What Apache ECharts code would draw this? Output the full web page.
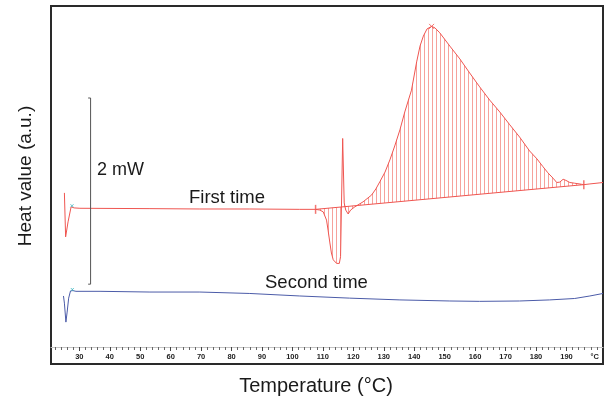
<!DOCTYPE html>
<html><head><meta charset="utf-8">
<script src="https://cdn.jsdelivr.net/npm/echarts@6.0.0/dist/echarts.min.js"></script>
<style>html,body{margin:0;padding:0;background:#fff}#c{width:604px;height:406px}</style>
</head><body><div id="c"></div>
<script>
// First heating run (temperature °C, heat value a.u.)
const firstT = [25.1,25.5,26.3,27.3,28.3,30.2,53.2,69.6,86.0,102.4,107.6,109.0,110.1,111.2,111.7,112.3,112.8,113.4,114.5,115.4,115.8,116.5,117.0,117.5,118.3,119.1,120.5,123.2,126.0,127.4,128.7,130.4,132.0,133.6,135.3,136.9,139.1,140.8,141.9,143.0,144.2,145.7,146.8,148.4,151.7,155.0,158.2,161.5,164.8,168.1,171.4,174.6,177.9,180.3,182.3,183.9,185.6,186.8,187.8,188.9,189.8,191.1,192.7,195.0,195.7,197.7,201.0,202.0];
const firstV = [47.8,35.5,39.7,43.9,43.6,43.5,43.4,43.3,43.3,43.2,43.2,43.0,42.5,40.2,37.4,33.8,31.0,29.1,28.1,28.1,30.0,63.0,45.0,43.0,41.9,43.0,43.9,45.3,47.2,48.9,50.9,53.6,57.0,60.9,65.4,70.4,76.5,84.4,88.8,91.6,93.6,94.3,93.9,92.5,88.8,85.2,81.3,77.4,73.7,70.4,66.8,63.4,59.5,57.3,55.1,53.4,51.9,50.7,50.8,51.6,51.3,50.7,50.5,50.2,50.1,50.3,50.6,50.7];
// Second heating run
const secondT = [24.8,25.1,25.6,26.0,26.5,27.1,27.9,28.9,36.8,53.2,69.6,86.0,102.4,118.8,135.3,151.7,161.5,174.6,184.5,192.7,197.7,202.0];
const secondV = [19.0,17.0,11.7,14.5,18.4,20.4,20.5,20.3,20.3,20.1,20.1,19.7,19.0,18.4,17.9,17.6,17.5,17.6,17.9,18.3,19.0,19.7];
// Integration baseline end points and peak
const baseT = [107.6, 195.7];
const baseV = [43.2, 50.1];
const peakPoint = [145.7, 94.3];
// 2 mW scale bar
const scaleBarT = [32.9, 33.7];
const scaleBarV = [22.3, 74.3];
// Axis ticks
const tickLabels = [30,40,50,60,70,80,90,100,110,120,130,140,150,160,170,180,190];
const unitLabelPos = 199.3;
const minorTicks = [];
for (let t = 22; t <= 200; t += 2) minorTicks.push(t);

const XMIN = 20.7, XMAX = 202.0;
const red = '#ef5550', blue = '#4b5ba8';

const pat = document.createElement('canvas');
pat.width = 4; pat.height = 4;
const g = pat.getContext('2d');
g.fillStyle = 'rgba(238,85,75,0.55)';
g.fillRect(0, 0, 1, 4);

const zip = (a, b) => a.map((v, i) => [v, b[i]]);

const chart = echarts.init(document.getElementById('c'));
chart.setOption({
  animation: false,
  grid: { left: 51, right: 1, top: 6, bottom: 42, show: true, borderColor: '#2a2a2a', borderWidth: 2, backgroundColor: 'transparent' },
  xAxis: [
    { type: 'value', min: XMIN, max: XMAX, position: 'bottom', offset: -17,
      axisLine: { show: true, lineStyle: { color: '#c4c4c4', width: 1 } },
      axisTick: { show: true, customValues: minorTicks, length: 3, lineStyle: { color: '#666' } },
      axisLabel: { show: false }, splitLine: { show: false } },
    { type: 'value', min: XMIN, max: XMAX, position: 'bottom', offset: -17,
      axisLine: { show: false },
      axisTick: { show: true, customValues: tickLabels, length: 4, lineStyle: { color: '#444' } },
      axisLabel: { show: true, customValues: tickLabels.concat([unitLabelPos]), margin: 6,
        fontSize: 7.5, fontWeight: 'bold', color: '#222', fontFamily: 'Liberation Sans',
        formatter: v => (Math.abs(v - unitLabelPos) < 0.01 ? '°C' : String(Math.round(v))) },
      splitLine: { show: false } }
  ],
  yAxis: { type: 'value', min: 0, max: 100, show: false },
  series: [
    { type: 'custom', xAxisIndex: 0, silent: true, clip: true, z: 1,
      data: [[baseT[0], baseV[0]]],
      renderItem: (params, api) => {
        const pts = [api.coord([baseT[0], baseV[0]])];
        for (let i = 0; i < firstT.length; i++) {
          if (firstT[i] >= baseT[0] && firstT[i] <= baseT[1]) pts.push(api.coord([firstT[i], firstV[i]]));
        }
        pts.push(api.coord([baseT[1], baseV[1]]));
        return { type: 'polygon', shape: { points: pts }, style: { fill: { image: pat, repeat: 'repeat' }, stroke: null } };
      } },
    { type: 'line', name: 'baseline', data: zip(baseT, baseV), showSymbol: false, z: 2,
      lineStyle: { color: red, width: 1 } },
    { type: 'line', name: 'First time', data: zip(firstT, firstV), showSymbol: false, z: 3,
      lineStyle: { color: red, width: 1 } },
    { type: 'line', name: 'Second time', data: zip(secondT, secondV), showSymbol: false, z: 3,
      lineStyle: { color: blue, width: 1 } },
    { type: 'line', name: 'scale', showSymbol: false, z: 3,
      data: [[scaleBarT[0], scaleBarV[1]], [scaleBarT[1], scaleBarV[1]], [scaleBarT[1], scaleBarV[0]], [scaleBarT[0], scaleBarV[0]]],
      lineStyle: { color: '#555', width: 1 } },
    { type: 'scatter', z: 4, symbol: 'rect', symbolSize: [1.5, 9], silent: true,
      itemStyle: { color: red }, data: zip(baseT, baseV) },
    { type: 'scatter', z: 4, symbol: 'path://M0,0L10,10M10,0L0,10', symbolSize: 5, silent: true,
      itemStyle: { color: 'none', borderColor: red, borderWidth: 1 }, data: [peakPoint] },
    { type: 'scatter', z: 4, symbol: 'path://M0,0L10,10M10,0L0,10', symbolSize: 3, silent: true,
      itemStyle: { color: 'none', borderColor: '#3bb5c0', borderWidth: 1 }, data: [[27.6, 44.2], [27.7, 20.8]] }
  ],
  graphic: [
    { type: 'text', left: 97, top: 161, style: { text: '2 mW', fontSize: 18, fontFamily: 'Liberation Sans', fill: '#1a1a1a' } },
    { type: 'text', left: 189, top: 188, style: { text: 'First time', fontSize: 18.5, fontFamily: 'Liberation Sans', fill: '#1a1a1a' } },
    { type: 'text', left: 265, top: 273, style: { text: 'Second time', fontSize: 18.5, fontFamily: 'Liberation Sans', fill: '#1a1a1a' } },
    { type: 'text', x: 316, y: 386, style: { text: 'Temperature (°C)', fontSize: 20, fontFamily: 'Liberation Sans', fill: '#1a1a1a', align: 'center', verticalAlign: 'middle' } },
    { type: 'text', x: 26, y: 176, rotation: Math.PI / 2, style: { text: 'Heat value (a.u.)', fontSize: 19, fontFamily: 'Liberation Sans', fill: '#1a1a1a', align: 'center', verticalAlign: 'middle' } }
  ]
});
</script></body></html>
